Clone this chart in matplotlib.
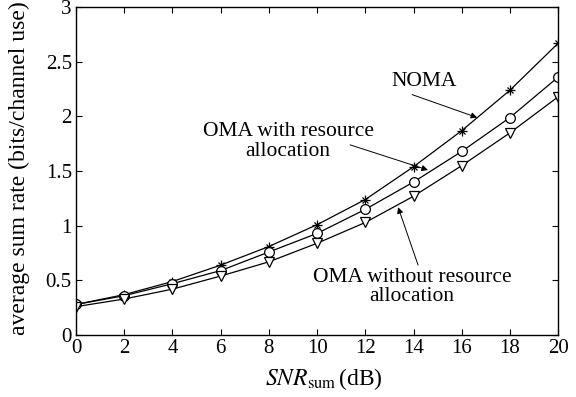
import matplotlib
matplotlib.use('Agg')
import matplotlib.pyplot as plt

snr_db = [0, 2, 4, 6, 8, 10, 12, 14, 16, 18, 20]
noma = [0.28, 0.37, 0.49, 0.64, 0.81, 1.01, 1.24, 1.54, 1.87, 2.24, 2.67]
oma_ra = [0.28, 0.36, 0.47, 0.59, 0.76, 0.93, 1.15, 1.40, 1.68, 1.99, 2.36]
oma_no_ra = [0.26, 0.33, 0.42, 0.54, 0.67, 0.84, 1.03, 1.27, 1.55, 1.85, 2.18]

plt.rcParams['font.family'] = 'Liberation Serif'
plt.rcParams['mathtext.fontset'] = 'stix'

fig = plt.figure(figsize=(5.76, 3.97), dpi=100)
ax = fig.add_axes([0.132, 0.156, 0.837, 0.826])

lw = 0.9
# NOMA: asterisk marker built from + and x
ax.plot(snr_db, noma, color='black', lw=lw)
ax.plot(snr_db, noma, ls='none', marker='+', ms=7, mew=0.9, color='black')
ax.plot(snr_db, noma, ls='none', marker='x', ms=5, mew=0.9, color='black')
ax.plot(snr_db, oma_ra, color='black', lw=lw, marker='o', ms=7,
        mfc='white', mec='black', mew=0.9)
ax.plot(snr_db, oma_no_ra, color='black', lw=lw, marker='v', ms=7,
        mfc='white', mec='black', mew=0.9)

ax.set_xlim(0, 20)
ax.set_ylim(0, 3)
ax.set_xticks(range(0, 21, 2))
ax.set_yticks([0, 0.5, 1, 1.5, 2, 2.5, 3])
ax.set_yticklabels(['0', '0.5', '1', '1.5', '2', '2.5', '3'])
ax.tick_params(direction='in', top=True, right=True, labelsize=15,
               length=4, width=0.8, pad=3)
for s in ax.spines.values():
    s.set_linewidth(1.0)

ax.set_xlabel(r'$SNR_{\mathrm{sum}}\,$(dB)', fontsize=17)
ax.set_ylabel('average sum rate (bits/channel use)', fontsize=17)
ax.xaxis.set_label_coords(0.514, -0.095)
ax.yaxis.set_label_coords(-0.095, 0.51)

# labels and their arrows
arrow = dict(arrowstyle='-|>', color='black', lw=0.7, mutation_scale=9,
             shrinkA=0, shrinkB=0)
ax.text(14.44, 2.32, 'NOMA', fontsize=15.5, ha='center', va='center')
ax.annotate('', xy=(16.64, 1.99), xytext=(13.94, 2.20), arrowprops=arrow)
ax.text(8.8, 1.77, 'OMA with resource\nallocation', fontsize=15.5,
        ha='center', va='center', linespacing=1.05)
ax.annotate('', xy=(14.6, 1.51), xytext=(11.37, 1.74), arrowprops=arrow)
ax.text(13.94, 0.44, 'OMA without resource\nallocation', fontsize=15.5,
        ha='center', va='center', linespacing=1.05)
ax.annotate('', xy=(13.36, 1.17), xytext=(14.19, 0.64), arrowprops=arrow)

fig.savefig('out.png', dpi=100)
